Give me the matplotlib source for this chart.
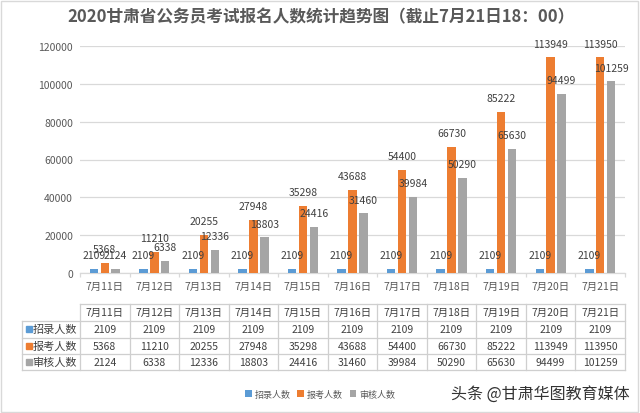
import matplotlib
matplotlib.use("Agg")
import matplotlib.pyplot as plt
from matplotlib.transforms import blended_transform_factory
from matplotlib.patches import Rectangle
import numpy as np

plt.rcParams['font.family'] = ['Noto Sans CJK SC', 'DejaVu Sans']

categories = ["7月11日", "7月12日", "7月13日", "7月14日", "7月15日", "7月16日",
              "7月17日", "7月18日", "7月19日", "7月20日", "7月21日"]
series_names = ["招录人数", "报考人数", "审核人数"]
recruit = [2109, 2109, 2109, 2109, 2109, 2109, 2109, 2109, 2109, 2109, 2109]
applied = [5368, 11210, 20255, 27948, 35298, 43688, 54400, 66730, 85222, 113949, 113950]
reviewed = [2124, 6338, 12336, 18803, 24416, 31460, 39984, 50290, 65630, 94499, 101259]
yticks = [0, 20000, 40000, 60000, 80000, 100000, 120000]

colors = ["#5B9BD5", "#ED7D31", "#A5A5A5"]
txt = "#404040"
tick_c = "#595959"
grid_c = "#D9D9D9"

W, H = 640, 414
fig = plt.figure(figsize=(W / 100, H / 100), dpi=100)
fig.patch.set_facecolor("white")

# axes placement in pixels
ax_l, ax_r, ax_top, ax_bot = 80, 625, 47, 274
ax = fig.add_axes([ax_l / W, (H - ax_bot) / H, (ax_r - ax_l) / W, (ax_bot - ax_top) / H])

x = np.arange(len(categories))
bw = 0.17
offs = [-0.22, 0.0, 0.22]
all_series = [recruit, applied, reviewed]
handles = []
for s, vals in enumerate(all_series):
    b = ax.bar(x + offs[s], vals, width=bw, color=colors[s], label=series_names[s], zorder=3)
    handles.append(b)
    for xi, v in zip(x + offs[s], vals):
        ax.annotate(str(v), (xi, v), xytext=(0, 10), textcoords="offset points",
                    ha="center", va="center", fontsize=7.5, color=txt, zorder=4,
                    annotation_clip=False)

ax.set_xlim(-0.5, len(categories) - 0.5)
ax.set_ylim(0, 120000)
ax.set_yticks(yticks)
ax.set_yticklabels([str(t) for t in yticks])
ax.yaxis.grid(True, color=grid_c, linewidth=0.9, zorder=0)
ax.set_axisbelow(True)
for sp in ["top", "right", "left"]:
    ax.spines[sp].set_visible(False)
ax.spines["bottom"].set_color(grid_c)
ax.spines["bottom"].set_linewidth(0.9)
ax.tick_params(axis="y", length=0, pad=5, labelsize=7.5, labelcolor=tick_c)
ax.set_xticks(x)
ax.set_xticklabels(categories)
ax.tick_params(axis="x", which="major", length=0, pad=6, labelsize=7.5, labelcolor=tick_c)
ax.set_xticks(np.arange(-0.5, len(categories), 1.0), minor=True)
ax.tick_params(axis="x", which="minor", length=3, color=grid_c, width=0.9)

# data table below the chart
px_per_cat = (ax_r - ax_l) / len(categories)
def px2x(px):
    return (px - ax_l) / px_per_cat - 0.5
def py2f(py):
    return (ax_bot - py) / (ax_bot - ax_top)

tr = blended_transform_factory(ax.transData, ax.transAxes)
line_c = "#CFCFCF"
row_edges = [305, 321.5, 338.5, 355, 371]
left_px = 22
xr = len(categories) - 0.5
# horizontal lines
ax.plot([-0.5, xr], [py2f(row_edges[0])] * 2, color=line_c, lw=0.9, transform=tr, clip_on=False)
for ry in row_edges[1:]:
    ax.plot([px2x(left_px), xr], [py2f(ry)] * 2, color=line_c, lw=0.9, transform=tr, clip_on=False)
# vertical lines
ax.plot([px2x(left_px)] * 2, [py2f(row_edges[1]), py2f(row_edges[-1])], color=line_c, lw=0.9,
        transform=tr, clip_on=False)
for b in np.arange(-0.5, len(categories), 1.0):
    ax.plot([b, b], [py2f(row_edges[0]), py2f(row_edges[-1])], color=line_c, lw=0.9,
            transform=tr, clip_on=False)
# header
hy = py2f((row_edges[0] + row_edges[1]) / 2)
for xi, c in zip(x, categories):
    ax.text(xi, hy, c, transform=tr, ha="center", va="center", fontsize=7.5, color=txt)
# rows
for r, (name, vals) in enumerate(zip(series_names, all_series)):
    cy = py2f((row_edges[r + 1] + row_edges[r + 2]) / 2)
    ax.plot([px2x(28.5)], [cy], marker="s", markersize=4.2, color=colors[r], linestyle="none",
            transform=tr, clip_on=False)
    ax.text(px2x(32.5), cy, name, transform=tr, ha="left", va="center", fontsize=8, color=txt)
    for xi, v in zip(x, vals):
        ax.text(xi, cy, str(v), transform=tr, ha="center", va="center", fontsize=7.5, color=txt)

# title
fig.text(321 / W, (H - 17) / H, "2020甘肃省公务员考试报名人数统计趋势图（截止7月21日18：00）",
         ha="center", va="center", fontsize=12, fontweight="bold", color=tick_c)

# legend
fig.legend(handles=handles, labels=series_names, loc="center", bbox_to_anchor=(320 / W, (H - 395) / H),
           ncol=3, frameon=False, fontsize=6.5, handlelength=0.7, handleheight=0.7,
           handletextpad=0.3, columnspacing=0.8, labelcolor=tick_c)

# source text
fig.text(630 / W, (H - 394) / H, "头条 @甘肃华图教育媒体", ha="right", va="center",
         fontsize=11.5, color="#333333")

# chart border
fig.patches.append(Rectangle((1 / W, 1 / H), (W - 3) / W, (H - 3) / H, transform=fig.transFigure,
                             fill=False, edgecolor="#D9D9D9", linewidth=1))

fig.savefig("out.png", dpi=100, facecolor="white")
